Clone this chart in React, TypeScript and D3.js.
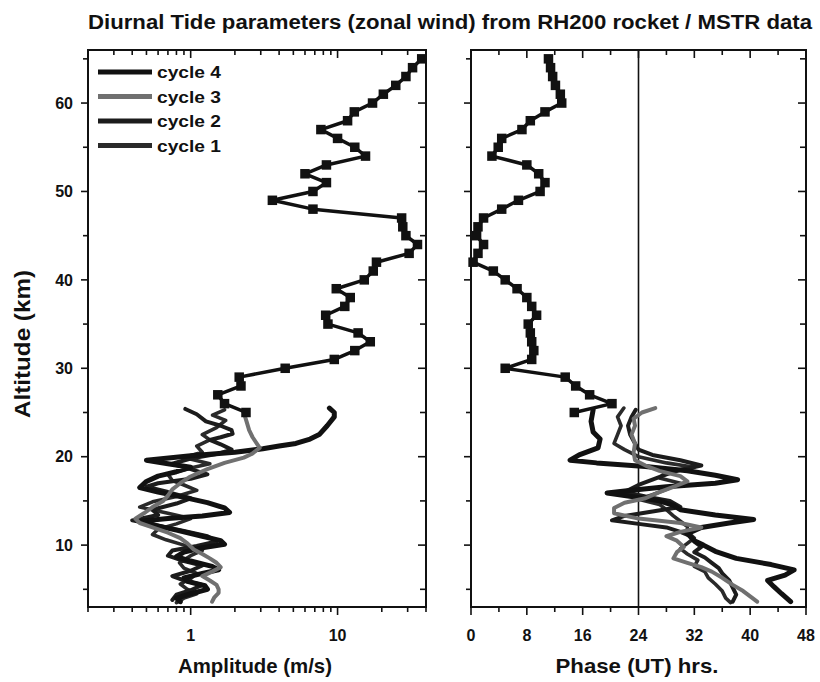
import React from 'react';
import * as d3 from 'd3';

// ---------- DATA ----------
const titleText = 'Diurnal Tide parameters (zonal wind) from RH200 rocket / MSTR data';
const legendLabels = ['cycle 4', 'cycle 3', 'cycle 2', 'cycle 1'];
const altitudeTicks = [10, 20, 30, 40, 50, 60];
const amplitudeLabelTicks = [1, 10];
const phaseLabelTicks = [0, 8, 16, 24, 32, 40, 48];

// RH200 rocket series (squares)
const rocketAltitude = [65, 64, 63, 62, 61, 60, 59, 58, 57, 56, 55, 54, 53, 52, 51, 50, 49, 48, 47, 46, 45, 44, 43, 42, 41, 40, 39, 38, 37, 36, 35, 34, 33, 32, 31, 30, 29, 28, 27, 26, 25];
const rocketAmplitude = [37.4, 32.4, 29.2, 24.9, 20.5, 17.3, 13.0, 11.7, 7.7, 10, 13.1, 15.5, 8.4, 6.0, 8.4, 6.8, 3.6, 6.8, 27.3, 27.8, 29.2, 35, 30.7, 18.4, 17.5, 15.2, 9.8, 12.2, 11.2, 8.3, 8.6, 13.8, 16.7, 13.1, 9.5, 4.4, 2.14, 2.2, 1.53, 1.7, 2.38];
const rocketPhase = [11.1, 11.4, 11.7, 12.1, 12.8, 13.0, 10.6, 8.5, 7.3, 4.4, 3.9, 3.0, 8.0, 9.7, 10.6, 9.9, 6.8, 4.4, 1.8, 1.0, 0.8, 1.8, 1.0, 0.3, 3.2, 4.9, 6.6, 8.0, 8.7, 9.4, 8.2, 8.5, 8.7, 9.0, 8.7, 4.9, 13.5, 15.0, 17.0, 20.2, 14.8];

// MSTR cycles: [altitude km, value]
const cycle4Amplitude: [number, number][] = [
  [25.5, 8.8], [25, 9.5], [24.5, 9.5], [23.5, 8.5], [22.5, 7.5], [22, 6.5], [21.5, 5.2], [21.2, 4.0], [20.9, 3.1], [20.5, 2.0], [20.1, 1.0], [19.6, 0.5], [19.2, 0.7], [18.8, 1.0], [18.3, 0.8], [17.8, 0.6], [17.2, 0.5], [16.5, 0.45], [16, 0.6], [15.4, 0.9], [14.8, 1.3], [14.2, 1.7], [13.7, 1.84], [13.3, 1.2], [13, 0.7], [12.7, 0.45], [12.3, 0.55], [11.7, 0.8], [11, 1.2], [10.5, 1.6], [10.1, 1.7], [9.7, 1.2], [9.2, 0.9], [8.7, 0.8], [8.2, 1.0], [7.6, 1.4], [7.2, 1.55], [6.8, 1.2], [6.3, 0.9], [5.9, 0.95], [5.4, 1.25], [5, 1.3], [4.5, 1.0], [4, 0.8], [3.6, 0.85]
];
const cycle3Amplitude: [number, number][] = [
  [25, 2.3], [24, 2.4], [23, 2.5], [22.2, 2.64], [21, 2.95], [20.3, 2.6], [19.9, 2.3], [19.3, 1.7], [18.6, 1.3], [17.7, 0.98], [17, 0.85], [16.3, 0.75], [15.6, 0.7], [15, 0.65], [14.3, 0.55], [13.6, 0.48], [13, 0.42], [12.5, 0.45], [12, 0.55], [11.4, 0.7], [10.8, 0.85], [10.2, 0.95], [9.5, 1.05], [9, 1.2], [8.5, 1.35], [8, 1.5], [7.5, 1.6], [7, 1.4], [6.5, 1.2], [6, 1.35], [5.5, 1.5], [5, 1.55], [4.6, 1.55], [4.1, 1.45], [3.6, 1.4]
];
const cycle2Amplitude: [number, number][] = [
  [25.4, 0.92], [24.8, 1.1], [24, 1.27], [23.5, 1.6], [23, 1.9], [22.6, 1.93], [22.2, 1.6], [21.9, 1.35], [21.4, 1.6], [20.8, 1.9], [20.3, 1.5], [19.8, 1.0], [19.2, 0.75], [18.6, 1.0], [18, 1.3], [17.5, 1.0], [17, 0.6], [16.6, 0.5], [16, 0.7], [15.3, 1.0], [14.7, 0.8], [14, 0.55], [13.4, 0.6], [12.8, 0.4], [12.2, 0.6], [11.6, 0.9], [11, 1.3], [10.4, 1.5], [9.9, 1.1], [9.4, 0.75], [8.8, 0.7], [8.2, 0.9], [7.7, 1.2], [7.1, 1.0], [6.5, 0.75], [6, 0.9], [5.5, 1.2], [4.9, 1.0], [4.4, 0.8], [3.8, 0.75]
];
const cycle1Amplitude: [number, number][] = [
  [25.3, 1.7], [24.7, 1.41], [24.1, 1.73], [23.3, 1.5], [22.5, 1.2], [21.9, 1.35], [21.2, 1.1], [20.5, 1.2], [19.9, 0.9], [19.2, 1.35], [18.7, 0.98], [18, 0.7], [17.3, 0.75], [16.8, 0.9], [16.2, 1.1], [15.5, 0.8], [14.9, 0.55], [14.3, 0.45], [13.6, 0.7], [13, 1.0], [12.4, 0.8], [11.8, 0.6], [11.2, 0.55], [10.6, 0.68], [10, 0.9], [9.4, 1.2], [8.8, 1.0], [8, 0.84], [7.4, 0.9], [6.8, 1.1], [6.2, 1.0], [5.6, 0.85], [5, 0.95], [4.5, 1.1], [4, 0.9], [3.5, 0.8]
];

const cycle4Phase: [number, number][] = [
  [25.3, 17.5], [24, 17.2], [22.8, 17.5], [22, 18.5], [21, 18.2], [20.2, 15.5], [19.6, 14.2], [19.3, 18], [18.9, 25], [18.4, 31], [17.9, 35], [17.4, 38.2], [17, 35], [16.6, 28], [16.2, 23], [15.9, 19.5], [15.5, 23], [15, 27], [14.5, 29], [14, 30], [13.4, 35], [12.9, 40.5], [12.5, 37], [12, 33], [11.3, 31], [10.5, 32], [10, 33.3], [9.3, 35], [8.5, 38], [7.8, 43], [7.2, 46.3], [6.6, 45], [6, 42.5], [5.3, 43.4], [4.5, 44.5], [3.6, 45.8]
];
const cycle3Phase: [number, number][] = [
  [25.5, 26.4], [25, 24.5], [24.3, 23.3], [23.5, 23.5], [22.5, 23], [21.5, 23.5], [20.5, 23.3], [19.6, 23.5], [19, 25], [18.4, 27], [17.8, 30], [17.2, 31], [16.6, 29], [16, 27], [15.3, 25], [14.8, 22], [14.2, 20.5], [13.6, 20.5], [13, 24], [12.5, 30], [12, 33], [11.5, 30], [11, 28], [10.5, 29.5], [9.8, 30.5], [9.2, 29.5], [8.5, 29], [8, 31], [7.5, 33], [7, 34.5], [6.3, 36], [5.5, 37.5], [4.8, 39], [4.2, 40], [3.6, 41]
];
const cycle2Phase: [number, number][] = [
  [25.3, 23.6], [24.5, 23], [23.5, 22.5], [22.5, 22.8], [21.5, 23.5], [20.8, 24], [20.2, 26], [19.6, 30], [19, 33], [18.5, 30], [18, 28], [17.4, 26], [16.8, 24], [16, 22], [15.5, 25], [15, 28.5], [14.3, 30], [13.8, 26], [13.3, 22], [12.8, 20.2], [12.4, 24], [12, 28], [11.5, 30], [11, 31.5], [10.4, 32], [9.8, 33], [9.2, 32], [8.6, 33.5], [8, 34.5], [7.4, 35.5], [6.8, 36], [6, 37], [5.2, 37.5], [4.4, 38], [3.6, 37.5]
];
const cycle1Phase: [number, number][] = [
  [25.5, 21.9], [24.5, 21], [23.5, 21.5], [22.5, 21], [21.5, 20.5], [20.8, 22], [20, 24], [19.3, 28], [18.8, 32], [18.3, 28], [17.6, 27], [17, 30], [16.3, 28], [15.7, 26], [15.2, 24], [14.6, 27], [14, 28], [13.3, 29], [12.7, 30], [12.1, 31], [11.5, 31], [10.8, 32], [10.2, 31], [9.6, 30], [9, 31], [8.3, 32.5], [7.6, 32], [7, 33.5], [6.3, 34], [5.6, 35], [4.8, 36], [4, 36.5], [3.5, 37.2]
];

// ---------- LAYOUT ----------
const W = 820, H = 682;
const TOP = 50, BOTTOM = 607;
const L1 = 88, R1 = 426;
const L2 = 471, R2 = 806;
const FONT = '"Liberation Sans", Arial, Helvetica, sans-serif';

const cycleStyles = [
  { name: 'cycle 4', color: '#111', width: 5 },
  { name: 'cycle 3', color: '#707070', width: 4 },
  { name: 'cycle 2', color: '#1c1c1c', width: 4 },
  { name: 'cycle 1', color: '#2a2a2a', width: 3.6 },
];

export default function App() {
  const y = d3.scaleLinear().domain([3, 66]).range([BOTTOM, TOP]);
  const xa = d3.scaleLog().domain([0.2, 40]).range([L1, R1]);
  const xp = d3.scaleLinear().domain([0, 48]).range([L2, R2]);

  const ampLine = d3.line<[number, number]>().x(d => xa(d[1])).y(d => y(d[0]));
  const phLine = d3.line<[number, number]>().x(d => xp(d[1])).y(d => y(d[0]));

  const rocketAmpPts: [number, number][] = rocketAltitude.map((a, i) => [a, rocketAmplitude[i]]);
  const rocketPhPts: [number, number][] = rocketAltitude.map((a, i) => [a, rocketPhase[i]]);

  const ampCycles = [cycle4Amplitude, cycle3Amplitude, cycle2Amplitude, cycle1Amplitude];
  const phCycles = [cycle4Phase, cycle3Phase, cycle2Phase, cycle1Phase];
  const drawOrder = [3, 2, 0, 1];

  const altMinor = d3.range(5, 66, 5);
  const ampTicks = xa.ticks();
  const phTicks = d3.range(0, 49, 4);

  const tickLabelStyle = { fontFamily: FONT, fontWeight: 700, fontSize: 16, fill: '#111' } as const;
  const sq = 9.5;

  const yAxisTicks = (xLeft: number, xRight: number, labels: boolean) =>
    altMinor.map(v => {
      const major = altitudeTicks.includes(v);
      const yy = y(v);
      return (
        <g key={'yt' + xLeft + v}>
          <line x1={xLeft} x2={xLeft - (major ? 7 : 5)} y1={yy} y2={yy} stroke="#111" strokeWidth={1.6} />
          <line x1={xRight} x2={xRight - (major ? 8 : 6)} y1={yy} y2={yy} stroke="#111" strokeWidth={1.6} />
          {labels && major && (
            <text x={xLeft - 15} y={yy} dy="0.36em" textAnchor="end" {...tickLabelStyle}>{v}</text>
          )}
        </g>
      );
    });

  return (
    <svg width={W} height={H} style={{ position: 'absolute', left: 0, top: 0, background: '#fff' }}>
      <rect width={W} height={H} fill="#fff" />
      <text x={88} y={29} fontFamily={FONT} fontWeight={700} fontSize={20} fill="#111" textLength={724} lengthAdjust="spacingAndGlyphs">{titleText}</text>

      {/* ---------- Left panel: amplitude ---------- */}
      <g>
        {ampTicks.map(v => {
          const major = amplitudeLabelTicks.includes(v);
          const xx = xa(v);
          return (
            <g key={'at' + v}>
              <line x1={xx} x2={xx} y1={BOTTOM} y2={BOTTOM + (major ? 8 : 5)} stroke="#111" strokeWidth={1.6} />
              <line x1={xx} x2={xx} y1={TOP} y2={TOP + (major ? 8 : 5)} stroke="#111" strokeWidth={1.6} />
            </g>
          );
        })}
        {amplitudeLabelTicks.map(v => (
          <text key={'al' + v} x={xa(v)} y={641} textAnchor="middle" {...tickLabelStyle}>{v}</text>
        ))}
        {yAxisTicks(L1, R1, true)}

        {drawOrder.map(i => (
          <path key={'ac' + i} d={ampLine(ampCycles[i]) || ''} fill="none" stroke={cycleStyles[i].color}
            strokeWidth={cycleStyles[i].width} strokeLinejoin="round" strokeLinecap="round" />
        ))}
        <path d={ampLine(rocketAmpPts) || ''} fill="none" stroke="#111" strokeWidth={3.5} strokeLinejoin="round" />
        {rocketAmpPts.map((d, i) => (
          <rect key={'as' + i} x={xa(d[1]) - sq / 2} y={y(d[0]) - sq / 2} width={sq} height={sq} fill="#111" />
        ))}

        <rect x={L1} y={TOP} width={R1 - L1} height={BOTTOM - TOP} fill="none" stroke="#111" strokeWidth={2} />

        {/* legend */}
        {cycleStyles.map((c, i) => {
          const ly = 72 + i * 24.5;
          return (
            <g key={'lg' + i}>
              <line x1={98} x2={152} y1={ly} y2={ly} stroke={c.color} strokeWidth={5} />
              <text x={157} y={ly} dy="0.36em" fontFamily={FONT} fontWeight={700} fontSize={17} fill="#111" textLength={64} lengthAdjust="spacingAndGlyphs">{legendLabels[i]}</text>
            </g>
          );
        })}
      </g>

      {/* ---------- Right panel: phase ---------- */}
      <g>
        {phTicks.map(v => {
          const major = v % 8 === 0;
          const xx = xp(v);
          return (
            <g key={'pt' + v}>
              <line x1={xx} x2={xx} y1={BOTTOM} y2={BOTTOM + (major ? 8 : 5)} stroke="#111" strokeWidth={1.6} />
              <line x1={xx} x2={xx} y1={TOP} y2={TOP + (major ? 8 : 5)} stroke="#111" strokeWidth={1.6} />
            </g>
          );
        })}
        {phaseLabelTicks.map(v => (
          <text key={'pl' + v} x={xp(v)} y={641} textAnchor="middle" {...tickLabelStyle}>{v}</text>
        ))}
        {yAxisTicks(L2, R2, false)}

        <line x1={xp(24)} x2={xp(24)} y1={TOP} y2={BOTTOM} stroke="#111" strokeWidth={1.6} />

        {drawOrder.map(i => (
          <path key={'pc' + i} d={phLine(phCycles[i]) || ''} fill="none" stroke={cycleStyles[i].color}
            strokeWidth={cycleStyles[i].width} strokeLinejoin="round" strokeLinecap="round" />
        ))}
        <path d={phLine(rocketPhPts) || ''} fill="none" stroke="#111" strokeWidth={3.5} strokeLinejoin="round" />
        {rocketPhPts.map((d, i) => (
          <rect key={'ps' + i} x={xp(d[1]) - sq / 2} y={y(d[0]) - sq / 2} width={sq} height={sq} fill="#111" />
        ))}

        <rect x={L2} y={TOP} width={R2 - L2} height={BOTTOM - TOP} fill="none" stroke="#111" strokeWidth={2} />
      </g>

      {/* axis titles */}
      <text transform="translate(30, 344) rotate(-90)" textAnchor="middle" fontFamily={FONT} fontWeight={700} fontSize={22} fill="#111" textLength={148} lengthAdjust="spacingAndGlyphs">Altitude (km)</text>
      <text x={255} y={673} textAnchor="middle" fontFamily={FONT} fontWeight={700} fontSize={21} fill="#111" textLength={154} lengthAdjust="spacingAndGlyphs">Amplitude (m/s)</text>
      <text x={637} y={673} textAnchor="middle" fontFamily={FONT} fontWeight={700} fontSize={21} fill="#111" textLength={163} lengthAdjust="spacingAndGlyphs">Phase (UT) hrs.</text>
    </svg>
  );
}
